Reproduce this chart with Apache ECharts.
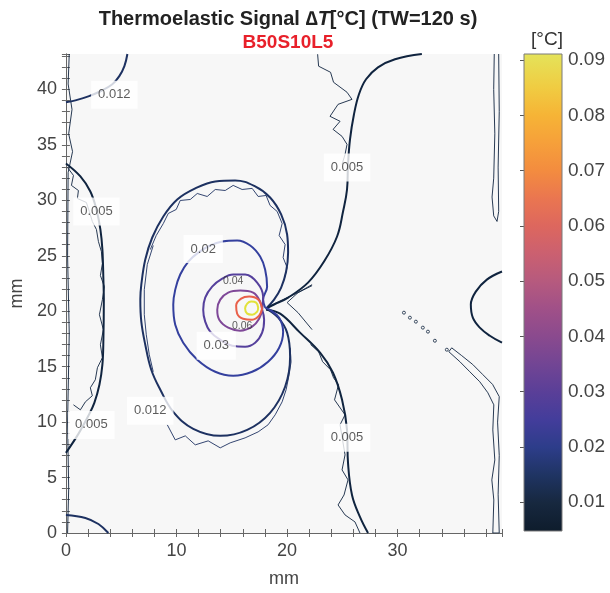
<!DOCTYPE html>
<html><head><meta charset="utf-8">
<script src="https://cdn.jsdelivr.net/npm/echarts@6/dist/echarts.min.js"></script>
<style>html,body{margin:0;padding:0;background:#fff}#c{width:610px;height:593px}</style>
</head><body><div id="c"></div>
<script>
// ---------- axis ranges / ticks ----------
const xRange = [0, 39.45];
const yRange = [0, 43.2];
const cbRange = [0.0048, 0.0911];
const cbTicks = [0.01, 0.02, 0.03, 0.04, 0.05, 0.06, 0.07, 0.08, 0.09];

// ---------- contour lines (mm) ----------
// thick (model) contours
const c012TopLeft = [[5.56,43.2],[5.29,42.1],[4.83,41.2],[4.2,40.47],[3.12,39.84],[2.03,39.38],[0.86,39.02],[0,38.84]];
const c005Left = [[0,33.33],[1.31,32.16],[2.21,30.8],[2.76,29.18],[3.12,27.37],[3.3,25.56],[3.39,22.85],[3.43,21.05],[3.39,17.43],[3.3,15.18],[3.03,13.37],[2.57,11.74],[2.03,10.57],[1.13,8.94],[0,7.23]];
const c012BottomLeft = [[0,1.63],[1.76,1.36],[2.94,0.81],[3.84,0]];
const c012Loop = [[18.11,20.24],[18.83,21.05],[19.47,22.13],[19.92,23.58],[20.1,25.29],[20.01,26.92],[19.47,28.73],[18.47,30.26],[17.12,31.26],[15.31,31.8],[13.51,31.71],[11.7,31.08],[10.07,30.08],[8.81,28.55],[7.81,26.65],[7.18,24.66],[6.82,22.4],[6.73,21.05],[6.82,19.06],[7.18,16.98],[7.72,14.72],[8.54,12.92],[9.71,10.93],[11.52,9.39],[13.96,8.76],[16.4,9.3],[18.47,10.84],[19.83,13.19],[20.28,15.9],[20.01,18.07],[19.2,19.42],[18.11,20.24]];
const c005RightUpper = [[32.2,43.2],[29.77,42.73],[28.23,42.0],[27.15,40.92],[26.51,39.57],[26.06,37.76],[25.7,35.5],[25.52,33.24],[25.43,30.98],[25.07,29.0],[24.53,26.74],[23.35,24.48],[21.9,22.58],[20.1,21.23],[18.83,20.6],[18.11,20.24]];
const c005RightLower = [[18.11,20.14],[19.38,19.78],[21.18,18.07],[22.99,16.26],[24.16,14.45],[24.98,12.01],[25.43,9.3],[25.52,6.32],[25.88,3.43],[26.6,1.45],[27.33,0]];
const c005RightBulge = [[39.45,23.58],[38.08,22.85],[37.08,21.77],[36.63,20.6],[36.81,19.42],[37.44,18.52],[38.35,17.79],[39.45,17.16]];
const c020Loop = [[18.02,20.33],[17.84,21.05],[18.2,22.22],[18.02,23.76],[17.57,24.93],[16.67,25.93],[15.49,26.38],[14.14,26.29],[13.05,25.93],[11.97,25.29],[11.07,24.48],[10.34,23.31],[9.89,21.95],[9.71,20.6],[9.89,18.79],[10.61,17.16],[11.88,15.63],[13.51,14.54],[15.13,14.18],[16.85,14.54],[18.29,15.45],[19.29,16.71],[19.65,18.16],[19.29,19.42],[18.56,20.05],[18.02,20.33]];
const c030Loop = [[17.75,20.14],[17.84,21.32],[17.3,22.58],[16.21,23.31],[15.13,23.31],[14.14,22.94],[13.23,22.22],[12.6,21.23],[12.42,20.14],[12.6,19.06],[13.05,18.16],[13.96,17.43],[15.04,16.89],[16.21,16.8],[17.12,17.16],[17.75,18.07],[17.93,19.24],[17.75,20.14]];
const c040Loop = [[17.75,20.14],[17.57,20.87],[16.94,21.68],[15.76,21.86],[14.68,21.68],[13.96,21.05],[13.69,20.14],[13.87,19.24],[14.68,18.52],[15.76,18.25],[16.85,18.61],[17.48,19.33],[17.75,20.14]];
const c060Ring = [[17.75,20.24],[17.39,21.05],[16.58,21.32],[15.85,21.14],[15.4,20.51],[15.49,19.78],[16.03,19.33],[16.85,19.24],[17.48,19.6],[17.75,20.24]];
const c090Ring = [[17.39,20.33],[17.21,20.78],[16.76,20.87],[16.4,20.69],[16.21,20.24],[16.4,19.78],[16.85,19.69],[17.3,19.96],[17.39,20.33]];

// thin (measured, noisy) contours
const t005SourceArm = [[18.29,20.42],[19.83,21.14],[21.18,21.77],[22.27,22.31]];
const t005Notch = [[22.27,22.4],[21.0,21.68],[20.01,20.78],[21.0,19.87],[22.27,18.34]];
const t012LoopTop = [[7.63,25.56],[8.17,26.83],[8.81,27.91],[9.26,28.82],[9.98,29.18],[10.34,29.99],[11.25,30.08],[11.88,30.62],[12.78,30.35],[13.51,30.98],[14.41,30.89],[15.13,31.35],[15.94,30.98],[16.85,31.08],[17.39,30.35],[18.11,30.44],[18.47,29.54],[19.11,29.0],[19.56,27.91],[19.29,26.83],[19.83,26.02],[19.65,24.84],[20.01,23.94],[19.74,22.85]];
const t012LoopLeft = [[7.9,25.93],[7.36,24.21],[7.09,21.95],[7.09,19.69],[7.27,17.88],[7.54,16.08],[7.9,14.54]];
const t012LoopBottom = [[9.17,9.76],[9.89,8.4],[10.8,8.76],[11.7,7.95],[12.87,8.31],[13.96,7.68],[14.86,8.13],[16.21,8.58],[17.39,9.12],[18.29,9.76],[18.93,10.66],[19.56,11.83],[19.92,12.92],[20.19,14.27],[20.37,15.45],[20.28,16.71]];
const t005Left = [[0.14,32.97],[0.68,32.25],[0.5,31.35],[1.13,30.89],[1.04,30.17],[1.85,29.81],[2.12,29.0],[2.39,28.09],[2.76,27.37],[2.94,26.29],[3.21,25.38],[3.3,24.3],[3.12,23.22],[3.48,22.22],[3.3,21.05],[3.03,19.69],[3.39,18.34],[3.12,16.98],[3.3,15.81],[2.85,14.91],[2.66,13.82],[2.21,13.1],[2.39,12.38],[1.76,11.83],[1.31,11.11],[0.68,11.56]];
const t005LeftEdge = [[0.3,43.2],[0.2,40.5],[0.55,38.2],[0.25,36.0],[0.6,34.4],[0.2,32.5],[0.15,25],[0.3,18],[0.15,10],[0.25,4],[0.15,0]];
const t005RightEdgeTop = [[38.75,43.2],[38.7,40],[38.8,36],[38.7,32],[38.55,30.3],[38.7,28.6],[39.0,28.1],[39.15,29],[39.1,33],[39.2,38],[39.15,43.2]];
const t005RightEdgeBottom = [[34.64,16.35],[35.64,15.45],[36.54,14.54],[37.44,13.64],[38.17,12.65],[38.71,11.56],[38.62,9.3],[38.8,6.59],[38.53,4.79],[38.71,2.98],[38.62,0],[39.2,0],[39.1,3.5],[39.2,7],[39.05,10],[39.2,12.3],[38.6,13.4],[37.7,14.3],[36.8,15.2],[35.8,16.0],[34.9,16.7],[34.64,16.35]];
const t005RightUpper = [[22.77,43.18],[22.86,42.1],[23.94,41.55],[24.21,40.65],[25.43,39.75],[25.88,39.11],[24.62,38.66],[23.89,37.58],[24.8,37.13],[24.17,36.4],[24.98,35.77],[25.43,35.05],[25.25,34.14],[24.98,33.24]];
const t005RightLower = [[22.13,17.0],[22.86,16.35],[23.22,15.45],[23.94,14.72],[24.21,14.0],[24.66,13.37],[24.3,12.01],[25.25,10.66],[24.8,9.76],[25.25,7.05],[24.98,5.69],[25.52,4.79],[25.16,3.43],[24.62,2.53],[25.25,1.63],[26.15,1.0],[26.6,0]];
const dotsRight = [[30.58,19.87],[31.12,19.42],[31.66,19.06],[32.29,18.52],[32.75,18.16],[33.38,17.34],[34.46,16.53]];

// contour labels: [x, y, text]
const boxLabels = [[4.38,39.52,'0.012'],[2.76,29.0,'0.005'],[12.42,25.61,'0.02'],[13.6,16.89,'0.03'],[7.63,11.02,'0.012'],[2.3,9.75,'0.005'],[25.43,32.97,'0.005'],[25.43,8.58,'0.005']];
const plainLabels = [[15.13,22.76,'0.04'],[15.94,18.7,'0.06']];

// ---------- styling ----------
const palette = [[0.0048,'#0e1c2c'],[0.01,'#17283f'],[0.015,'#1f3463'],[0.02,'#2d3d8a'],[0.025,'#433d9b'],[0.03,'#5a3f98'],[0.035,'#724594'],[0.04,'#8a4a8e'],[0.045,'#a05088'],[0.05,'#b65a7e'],[0.055,'#cb6070'],[0.06,'#dd675e'],[0.065,'#ea7650'],[0.07,'#f38c3f'],[0.075,'#f6a03a'],[0.08,'#f6b436'],[0.085,'#f0cc42'],[0.0911,'#e4e35a']];
const lvColor = {0.005:'#10243f', 0.012:'#1d3161', 0.02:'#34409e', 0.03:'#55409c', 0.04:'#7f4898', 0.06:'#e9604a', 0.09:'#e2e23a'};
const FONT = 'Liberation Sans, Arial, Helvetica, sans-serif';

function line(data, lv, width, smooth) {
  return {type:'line', xAxisIndex:0, yAxisIndex:0, data:data, symbol:'none', showSymbol:false,
    smooth: smooth, silent:true, animation:false, z: width > 1.2 ? 4 : 3,
    lineStyle:{color: lvColor[lv], width: width}};
}

const series = [
  // thin measured
  line(t005LeftEdge, 0.005, 0.9, false),
  line(t005Left, 0.005, 0.9, false),
  line(t005RightEdgeTop, 0.005, 0.9, false),
  line(t005RightEdgeBottom, 0.005, 0.9, false),
  line(t005RightUpper, 0.005, 0.9, false),
  line(t005RightLower, 0.005, 0.9, false),
  line(t005SourceArm, 0.005, 0.9, false),
  line(t005Notch, 0.005, 0.9, false),
  line(t012LoopTop, 0.012, 0.9, false),
  line(t012LoopLeft, 0.012, 0.9, false),
  line(t012LoopBottom, 0.012, 0.9, false),
  // thick model
  line(c012TopLeft, 0.012, 2, 0.4),
  line(c005Left, 0.005, 2, 0.4),
  line(c012BottomLeft, 0.012, 2, 0.4),
  line(c012Loop, 0.012, 2, 0.4),
  line(c005RightUpper, 0.005, 2, 0.4),
  line(c005RightLower, 0.005, 2, 0.4),
  line(c005RightBulge, 0.005, 2, 0.4),
  line(c020Loop, 0.02, 2, 0.4),
  line(c030Loop, 0.03, 2, 0.4),
  line(c040Loop, 0.04, 2, 0.4),
  line(c060Ring, 0.06, 2, 0.4),
  line(c090Ring, 0.09, 2, 0.4),
  {type:'scatter', xAxisIndex:0, yAxisIndex:0, data:dotsRight, symbol:'circle', symbolSize:3,
    itemStyle:{color:'#f7f7f7', borderColor:'#10243f', borderWidth:1}, silent:true, z:3},
  {type:'scatter', xAxisIndex:0, yAxisIndex:0, data:boxLabels, symbolSize:0, silent:true, z:10,
    label:{show:true, position:'inside', formatter:p=>p.value[2], fontFamily:FONT, fontSize:13, color:'#333',
      backgroundColor:'#ffffff', padding:[8,7,7,7]}},
  {type:'scatter', xAxisIndex:0, yAxisIndex:0, data:plainLabels, symbolSize:0, silent:true, z:10,
    label:{show:true, position:'inside', formatter:p=>p.value[2], fontFamily:FONT, fontSize:10.5, color:'#333'}},
  // colorbar
  {type:'custom', xAxisIndex:2, yAxisIndex:2, data:[[0, cbRange[0], cbRange[1]]], silent:true,
    encode:{x:0, y:[1,2]},
    renderItem:function(params, api){
      const pTop = api.coord([0, api.value(2)]);
      const pBot = api.coord([1, api.value(1)]);
      const span = cbRange[1]-cbRange[0];
      const stops = palette.map(s=>({offset:(cbRange[1]-s[0])/span, color:s[1]})).reverse();
      return {type:'rect', shape:{x:pTop[0], y:pTop[1], width:pBot[0]-pTop[0], height:pBot[1]-pTop[1]},
        style:{fill:new echarts.graphic.LinearGradient(0,0,0,1,stops), stroke:'#7a7a7a', lineWidth:1}};
    }}
];

const axisLineStyle = {show:true, lineStyle:{color:'#666', width:1}};
const tickStyle = {show:true, inside:true, length:4, lineStyle:{color:'#666'}};
const minorStyle = {show:true, splitNumber:5, length:4, lineStyle:{color:'#666'}};
const lbl = {fontFamily:FONT, fontSize:18, color:'#444'};

const option = {
  animation:false,
  backgroundColor:'#ffffff',
  title:[
    {text:'{a|Thermoelastic Signal }{d|\u2206}{i|T}{a|[°C] (TW=120 s)}', left:283, top:4, textAlign:'center',
      textStyle:{rich:{
        a:{fontFamily:FONT, fontSize:20, fontWeight:'bold', color:'#222'},
        d:{fontFamily:FONT, fontSize:20, color:'#222'},
        i:{fontFamily:FONT, fontSize:20, fontWeight:'bold', fontStyle:'italic', color:'#222'}}}},
    {text:'B50S10L5', left:283, top:28, textAlign:'center',
      textStyle:{fontFamily:FONT, fontSize:19, fontWeight:'bold', color:'#e8202a'}},
    {text:'[°C]', left:542, top:25, textAlign:'center',
      textStyle:{fontFamily:FONT, fontSize:19, fontWeight:'normal', color:'#333'}}
  ],
  grid:[
    {left:65, right:108, top:54, bottom:60, show:true, backgroundColor:'#f7f7f7', borderWidth:0},
    {left:524, width:38, top:54, height:477, show:false}
  ],
  xAxis:[
    {type:'value', gridIndex:0, position:'bottom', min:xRange[0], max:xRange[1], interval:10,
      axisLine:axisLineStyle, axisTick:tickStyle, minorTick:minorStyle,
      splitLine:{show:false}, axisLabel:Object.assign({margin:9, showMaxLabel:false}, lbl),
      name:'mm', nameLocation:'middle', nameGap:37, nameTextStyle:lbl},
    {type:'value', gridIndex:0, position:'top', min:xRange[0], max:xRange[1], interval:10,
      axisLine:axisLineStyle, axisTick:tickStyle, minorTick:minorStyle,
      splitLine:{show:false}, axisLabel:{show:false}},
    {type:'value', gridIndex:1, min:0, max:1, show:false}
  ],
  yAxis:[
    {type:'value', gridIndex:0, position:'left', min:yRange[0], max:yRange[1], interval:5,
      axisLine:axisLineStyle, axisTick:tickStyle, minorTick:minorStyle,
      splitLine:{show:false}, axisLabel:Object.assign({margin:9, showMaxLabel:false}, lbl),
      name:'mm', nameLocation:'middle', nameGap:38, nameRotate:90, nameTextStyle:lbl},
    {type:'value', gridIndex:0, position:'right', min:yRange[0], max:yRange[1], interval:5,
      axisLine:axisLineStyle, axisTick:tickStyle, minorTick:minorStyle,
      splitLine:{show:false}, axisLabel:{show:false}},
    {type:'value', gridIndex:1, position:'right', min:cbRange[0], max:cbRange[1],
      axisLine:{show:false}, splitLine:{show:false},
      axisTick:{show:true, inside:true, length:4, lineStyle:{color:'#555'}, customValues:cbTicks},
      axisLabel:Object.assign({margin:6, customValues:cbTicks, formatter:v=>Number(v).toFixed(2)}, lbl, {fontSize:19})}
  ],
  series:series
};

const chart = echarts.init(document.getElementById('c'), null, {renderer:'canvas'});
chart.setOption(option);
</script></body></html>
